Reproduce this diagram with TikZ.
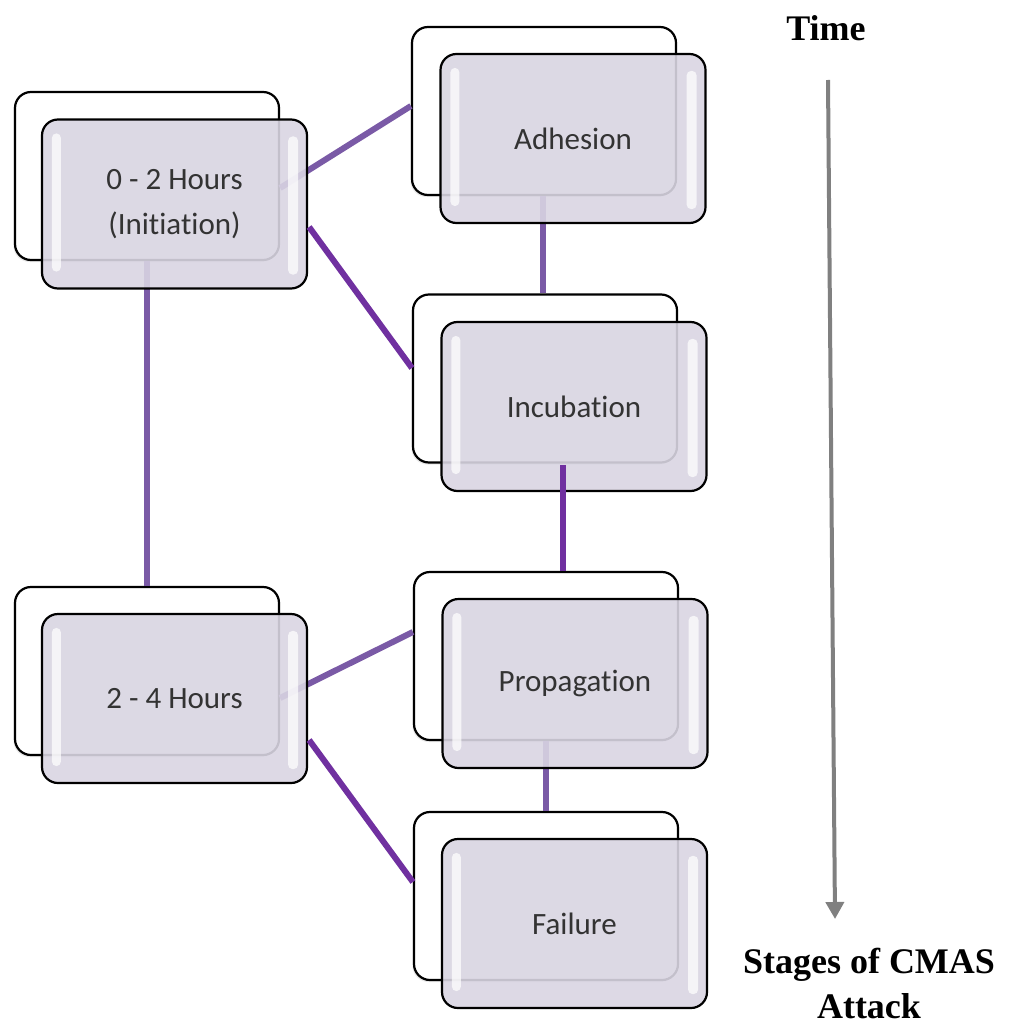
\documentclass[tikz,border=0pt]{standalone}
\usepackage{fontspec}
\usetikzlibrary{calc,arrows.meta,shadows}
\newfontfamily\boxfont[Ligatures=CommonOff]{Carlito}
\newfontfamily\titlefont{Liberation Serif}
\definecolor{boxfill}{HTML}{D9D5E2}
\definecolor{linkdark}{HTML}{7030A0}
\definecolor{linklight}{HTML}{7A5AA6}
\definecolor{boxtext}{HTML}{333333}
\definecolor{timegray}{HTML}{808080}
\tikzset{
  x=1pt, y=-1pt,
  backbox/.style={draw=black, line width=2.2pt, fill=white, rounded corners=16pt,
    minimum width=264pt, minimum height=168pt, inner sep=0pt,
    drop shadow={opacity=0.18, shadow xshift=-1.5pt, shadow yshift=-2pt}},
  frontbox/.style={draw=black, line width=2.2pt, fill=boxfill, fill opacity=0.9,
    text opacity=1, rounded corners=16pt, minimum width=265pt, minimum height=169pt,
    inner sep=0pt, align=center, text=boxtext,
    font=\boxfont\fontsize{31}{45}\selectfont},
  shine/.style={fill=white, opacity=0.72, rounded corners=4.5pt},
  linklight/.style={draw=linklight, line width=6pt},
  linkdark/.style={draw=linkdark, line width=6pt},
  title/.style={font=\titlefont\bfseries\fontsize{36}{45}\selectfont, align=center, text=black},
  timeline/.style={draw=timegray, line width=4pt, -{Triangle[width=18pt,length=17pt]}}
}
% back card of a stage
\newcommand\backcard[3]{\node[backbox] (#1) at (#2,#3) {};}
% front card of a stage with its glossy edge strips
\newcommand\frontcard[4]{%
  \node[frontbox] (#1) at (#2,#3) {#4};
  \fill[shine] ($(#1.north west)+(11,15)$) rectangle ($(#1.south west)+(20,-18)$);
  \fill[shine] ($(#1.north east)+(-10,18)$) rectangle ($(#1.south east)+(-20,-15)$);
}
\begin{document}
\begin{tikzpicture}
\useasboundingbox (0,0) rectangle (1009,1024);

% back cards
\backcard{initB}{147}{176}
\backcard{adhB}{544}{111}
\backcard{incB}{545}{378.5}
\backcard{propB}{546}{656}
\backcard{failB}{546}{896}
\backcard{lateB}{147}{671}

% links between back cards (seen through the front cards)
\draw[linklight] ($(initB.east)+(0,12)$) -- ($(adhB.west)+(0,-5)$);
\draw[linklight] (initB.south) -- (initB.south |- lateB.north);
\draw[linklight] ($(adhB.south)+(-1,0)$) -- ($(adhB.south |- incB.north)+(-1,0)$);
\draw[linklight] ($(lateB.east)+(0,27)$) -- ($(propB.west)+(0,-24)$);
\draw[linklight] (propB.south) -- (propB.south |- failB.north);

% front cards
\frontcard{initF}{174.5}{204}{0 - 2 Hours\\(Initiation)}
\frontcard{adhF}{573}{138.5}{Adhesion}
\frontcard{incF}{574}{406.5}{Incubation}
\frontcard{propF}{575}{683.5}{Propagation}
\frontcard{failF}{574.5}{923.5}{Failure}
\frontcard{lateF}{174.5}{698.5}{2 - 4 Hours}

% links drawn over the front cards
\draw[linkdark] ($(initF.east)+(1,23)$) -- ($(incB.west)+(0,-10.5)$);
\draw[linkdark] ($(incF.center)+(-11,58.5)$) coordinate (incdrop) -- (incdrop |- propB.north);
\draw[linkdark] ($(lateF.east)+(1,41.5)$) -- ($(failB.west)+(0,-14)$);

% time axis
\node[title] (time) at (826,28) {Time};
\coordinate (tstart) at (828,80);
\coordinate (tend) at (835,919);
\draw[timeline] (tstart) -- (tend);
\node[title] (stages) at (869,983) {Stages of CMAS\\Attack};
\end{tikzpicture}
\end{document}
